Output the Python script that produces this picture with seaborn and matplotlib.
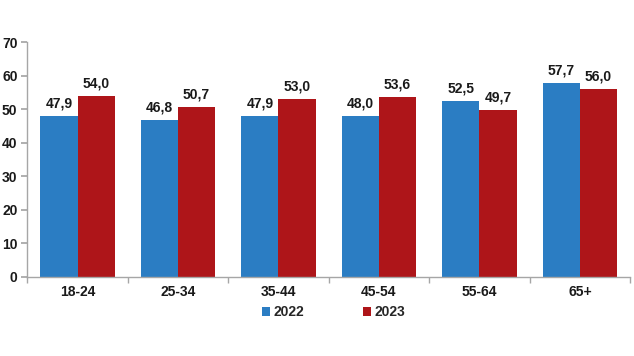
import matplotlib
matplotlib.use("Agg")
import matplotlib.pyplot as plt
import seaborn as sns
import pandas as pd
import numpy as np

categories = ["18-24", "25-34", "35-44", "45-54", "55-64", "65+"]
v2022 = [47.9, 46.8, 47.9, 48.0, 52.5, 57.7]
v2023 = [54.0, 50.7, 53.0, 53.6, 49.7, 56.0]
years = ["2022", "2023"]
colors = ["#2B7DC3", "#AE1519"]

sns.set_theme(style="white")
plt.rcParams['font.family'] = ['Liberation Sans', 'DejaVu Sans']

df = pd.DataFrame({
    "age": categories * 2,
    "value": v2022 + v2023,
    "year": [years[0]] * len(categories) + [years[1]] * len(categories),
})

fig = plt.figure(figsize=(6.34, 3.56), dpi=100)
ax = fig.add_axes([0.043, 0.222, 0.951, 0.66])
sns.barplot(data=df, x="age", y="value", hue="year", palette=colors,
            width=0.74, ax=ax, saturation=1, edgecolor="none", legend=True)

for c in ax.containers:
    ax.bar_label(c, labels=[f"{v:.1f}".replace(".", ",") for v in c.datavalues],
                 padding=4, fontsize=10, fontweight="bold", color="#1a1a1a")

ax.set_ylim(0, 70)
ax.set_yticks(range(0, 71, 10))
ax.set_xlim(-0.5, len(categories) - 0.5)
ax.set_xlabel("")
ax.set_ylabel("")
for s in ["top", "right"]:
    ax.spines[s].set_visible(False)
for s in ["left", "bottom"]:
    ax.spines[s].set_color("#A6A6A6")
    ax.spines[s].set_linewidth(1)
ax.tick_params(axis="y", which="major", left=True, length=4, color="#A6A6A6",
               labelsize=10, pad=3)
ax.tick_params(axis="x", which="major", length=0, labelsize=10, pad=6)
ax.set_xticks(np.arange(-0.5, len(categories), 1.0), minor=True)
ax.tick_params(axis="x", which="minor", bottom=True, length=4, color="#A6A6A6")
for lab in ax.get_xticklabels() + ax.get_yticklabels():
    lab.set_fontweight("bold")
    lab.set_color("#1a1a1a")

leg = ax.legend(loc="upper center", bbox_to_anchor=(0.508, -0.068), ncol=2,
                frameon=False, handlelength=0.55, handleheight=0.55,
                handletextpad=0.25, columnspacing=4.3, prop={"weight": "bold", "size": 10})

fig.savefig("out.png", dpi=100)
